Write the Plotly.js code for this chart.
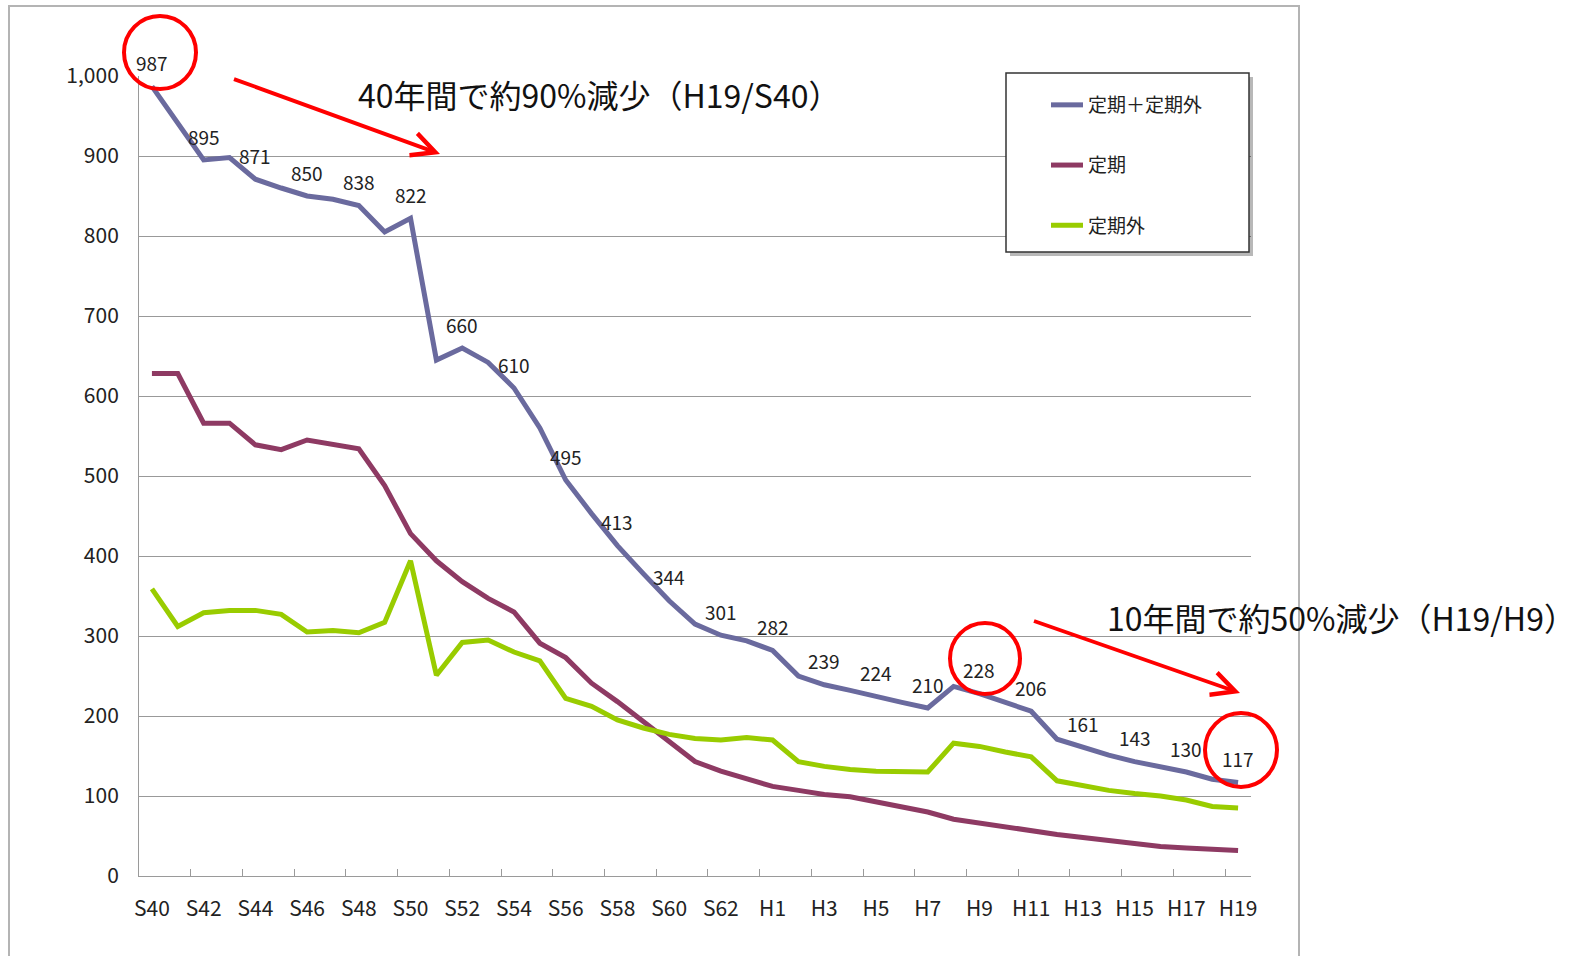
<!DOCTYPE html>
<html><head><meta charset="utf-8">
<script src="https://cdn.plot.ly/plotly-3.0.1.min.js"></script>
<style>
html,body{margin:0;padding:0;background:#fff;overflow:hidden;}
#frame{position:absolute;left:8px;top:5px;width:1288px;height:1000px;border:2px solid #b4b4b4;z-index:0;}
#chart{position:absolute;left:0;top:0;width:1577px;height:956px;z-index:1;}
</style></head><body>
<div id="frame"></div>
<div id="chart"></div>
<script>
// ---- data ----
const categories = ['S40','S41','S42','S43','S44','S45','S46','S47','S48','S49','S50','S51','S52','S53','S54','S55','S56','S57','S58','S59','S60','S61','S62','S63',
  'H1','H2','H3','H4','H5','H6','H7','H8','H9','H10','H11','H12','H13','H14','H15','H16','H17','H18','H19'];
const seriesNames = ['定期＋定期外','定期','定期外'];
const totalVals = [987,940,895,898,871,860,850,846,838,805,822,645,660,642,610,560,495,453,413,378,344,315,301,294,
  282,250,239,232,224,217,210,237,228,217,206,171,161,151,143,137,130,121,117];
const regularVals = [628,628,566,566,539,533,545,539,534,488,428,394,368,347,330,291,273,241,218,193,167,143,131,121,
  112,107,102,99,93,87,80,71,66,62,57,52,48,44,40,37,35,34,32];
const irregularVals = [359,312,329,332,332,327,305,307,304,317,394,251,292,295,280,269,222,212,195,185,177,172,170,173,
  170,143,137,133,131,130,130,166,162,155,149,119,113,107,103,100,95,87,85];
const tickLabels = ['S40','S42','S44','S46','S48','S50','S52','S54','S56','S58','S60','S62','H1','H3','H5','H7','H9','H11','H13','H15','H17','H19'];
const note1 = '40年間で約90%減少（H19/S40）';
const note2 = '10年間で約50%減少（H19/H9）';

// ---- styles ----
const FONT = '"Noto Sans CJK JP", "Noto Sans", sans-serif';
const colors = ['#6a6a9e', '#8e3a63', '#99cc00'];
const L = 139, R = 1251, T = 76, B = 876;
const px = x => (x - L) / (R - L);
const py = y => (B - y) / (B - T);

const seriesVals = [totalVals, regularVals, irregularVals];
const traces = seriesVals.map((vals, k) => ({
  type: 'scatter', mode: 'lines', name: seriesNames[k], legendgroup: 'g' + k,
  x: categories, y: vals, line: {color: colors[k], width: 5}, hoverinfo: 'x+y'
}));
traces.push({type: 'scatter', x: [], y: [], xaxis: 'x2', yaxis: 'y', showlegend: false, hoverinfo: 'skip'});

// boundary tick positions (between categories, every 2)
const boundaryTicks = [];
for (let v = 1.5; v < categories.length - 0.5; v += 2) boundaryTicks.push(v);

const annotations = tickLabels.map(c => {
  const v = totalVals[categories.indexOf(c)];
  return {x: c, y: v, xref: 'x', yref: 'y', text: String(v), showarrow: false, yshift: 24,
          font: {family: FONT, size: 19, color: '#222'}};
});
annotations.push(
  {xref: 'paper', yref: 'paper', x: px(356), y: py(94), xanchor: 'left', yanchor: 'middle', text: note1,
   showarrow: false, font: {family: FONT, size: 32, color: '#111'}},
  {xref: 'paper', yref: 'paper', x: px(1105), y: py(617), xanchor: 'left', yanchor: 'middle', text: note2,
   showarrow: false, font: {family: FONT, size: 32, color: '#111'}},
  {xref: 'paper', yref: 'paper', x: px(440), y: py(154), ax: 231 - 440, ay: 78 - 154, showarrow: true,
   arrowhead: 5, arrowsize: 1.2, arrowwidth: 3.8, arrowcolor: '#ff0000', standoff: 0},
  {xref: 'paper', yref: 'paper', x: px(1240), y: py(693), ax: 1031 - 1240, ay: 620 - 693, showarrow: true,
   arrowhead: 5, arrowsize: 1.2, arrowwidth: 3.8, arrowcolor: '#ff0000', standoff: 0}
);

const circ = (x0, x1, y0, y1) => ({type: 'circle', xref: 'paper', yref: 'paper', x0: px(x0), x1: px(x1), y0: py(y1), y1: py(y0),
  line: {color: '#ff0000', width: 4}, fillcolor: 'rgba(0,0,0,0)', layer: 'above'});

const shapes = [
  {type: 'rect', xref: 'paper', yref: 'paper', x0: px(1010), x1: px(1253), y0: py(256), y1: py(77),
   fillcolor: 'rgba(0,0,0,0.28)', line: {width: 0}, layer: 'above'},
  {type: 'rect', xref: 'paper', yref: 'paper', x0: px(1006), x1: px(1249), y0: py(252), y1: py(73),
   fillcolor: '#ffffff', line: {color: '#333', width: 1.5}, layer: 'above'},
  circ(124, 196, 16, 89),
  circ(950, 1020, 623, 694),
  circ(1205, 1277, 713, 787)
];

const layout = {
  width: 1577, height: 956,
  margin: {l: L, r: 1577 - R, t: T, b: 956 - B, pad: 0, autoexpand: false},
  paper_bgcolor: 'rgba(0,0,0,0)', plot_bgcolor: 'rgba(0,0,0,0)',
  font: {family: FONT, color: '#222'},
  showlegend: true,
  legend: {xref: 'container', yref: 'container', x: 1046 / 1577, y: 1 - 86 / 956, xanchor: 'left', yanchor: 'top',
    bgcolor: 'rgba(0,0,0,0)', borderwidth: 0, font: {family: FONT, size: 19, color: '#222'},
    itemwidth: 32, tracegroupgap: 32.5, traceorder: 'grouped'},
  xaxis: {type: 'category', range: [-0.5, categories.length - 0.5], tickmode: 'array', tickvals: tickLabels, ticktext: tickLabels,
    ticks: 'outside', ticklen: 14, tickcolor: 'rgba(0,0,0,0)', showline: true, linecolor: '#9a9a9a', linewidth: 1,
    showgrid: false, zeroline: false, tickfont: {family: FONT, size: 21, color: '#222'}, fixedrange: true},
  xaxis2: {overlaying: 'x', anchor: 'y', side: 'bottom', type: 'linear', range: [-0.5, categories.length - 0.5],
    tickmode: 'array', tickvals: boundaryTicks, ticks: 'inside', ticklen: 7, tickcolor: '#9a9a9a', tickwidth: 1,
    showticklabels: false, showgrid: false, zeroline: false, showline: false, fixedrange: true},
  yaxis: {range: [0, 1000], tick0: 0, dtick: 100, tickformat: ',', showgrid: true, gridcolor: '#999', gridwidth: 1,
    showline: true, linecolor: '#9a9a9a', linewidth: 1, zeroline: false, ticks: 'outside', ticklen: 15,
    tickcolor: 'rgba(0,0,0,0)', tickfont: {family: FONT, size: 21, color: '#222'}, fixedrange: true},
  shapes: shapes,
  annotations: annotations
};

Plotly.newPlot('chart', traces, layout, {displayModeBar: false, staticPlot: true});
</script>
</body></html>
